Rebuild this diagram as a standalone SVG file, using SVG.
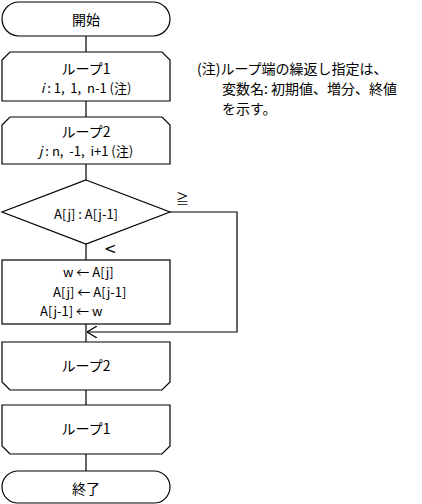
<svg xmlns="http://www.w3.org/2000/svg" width="422" height="504" viewBox="0 0 422 504">
<style>
.s{fill:#fff;stroke:#000;stroke-width:1.2}
.c{fill:none;stroke:#000;stroke-width:1.2}
text{font-family:"Noto Sans CJK JP","DejaVu Sans",sans-serif;font-size:13px;fill:#000;white-space:pre}
.m{text-anchor:middle;dominant-baseline:central}
.j{font-size:14px}
</style>
<defs>
<marker id="a" viewBox="0 0 10 12" refX="10" refY="6" markerWidth="10" markerHeight="12" markerUnits="userSpaceOnUse" orient="auto">
<path d="M0,0 L10,6 L0,12" fill="none" stroke="#000" stroke-width="1.2"/>
</marker>
</defs>
<rect width="422" height="504" fill="#fff"/>
<g id="connectors">
<line class="c" x1="86" y1="36" x2="86" y2="52"/>
<line class="c" x1="86" y1="101" x2="86" y2="117"/>
<line class="c" x1="86" y1="164" x2="86" y2="180"/>
<line class="c" x1="86" y1="244" x2="86" y2="260"/>
<line class="c" x1="86" y1="324" x2="86" y2="342"/>
<line class="c" x1="86" y1="390" x2="86" y2="405"/>
<line class="c" x1="86" y1="454" x2="86" y2="471"/>
<polyline class="c" points="170,212 237,212 237,332 87,332" marker-end="url(#a)"/>
<text x="176" y="203" font-size="14">≧</text>
<text x="104" y="254" style="font-family:'DejaVu Sans',sans-serif;font-size:15px">&lt;</text>
</g>
<g id="start">
<rect class="s" x="2" y="2" width="168" height="34" rx="17"/>
<text class="m j" x="86" y="19">開始</text>
</g>
<g id="loop1">
<path class="s" d="M10,52 H162 L170,60 V101 H2 V60 Z"/>
<text class="m j" x="86" y="68">ループ1</text>
<text class="m" x="86" y="87"><tspan font-style="italic">i</tspan> : 1,  1,  n-1 (注)</text>
</g>
<g id="loop2">
<path class="s" d="M10,117 H162 L170,125 V164 H2 V125 Z"/>
<text class="m j" x="86" y="131">ループ2</text>
<text class="m" x="86" y="150"><tspan font-style="italic">j</tspan> : n,  -1,  i+1 (注)</text>
</g>
<g id="decision">
<path class="s" d="M86,180 L170,212 L86,244 L2,212 Z"/>
<text class="m" x="86" y="213">A[j] : A[j-1]</text>
</g>
<g id="swap">
<rect class="s" x="2" y="260" width="168" height="64"/>
<text x="63" y="277">w ← A[j]</text>
<text x="53" y="297">A[j] ← A[j-1]</text>
<text x="40" y="316">A[j-1] ← w</text>
</g>
<g id="loop2end">
<path class="s" d="M2,342 H170 V382 L162,390 H10 L2,382 Z"/>
<text class="m j" x="86" y="365">ループ2</text>
</g>
<g id="loop1end">
<path class="s" d="M2,405 H170 V446 L162,454 H10 L2,446 Z"/>
<text class="m j" x="86" y="428">ループ1</text>
</g>
<g id="end">
<rect class="s" x="2" y="471" width="168" height="32" rx="16"/>
<text class="m j" x="86" y="488">終了</text>
</g>
<g id="note">
<text class="j" x="197" y="74">(注)ループ端の繰返し指定は、</text>
<text class="j" x="222" y="94">変数名: 初期値、増分、終値</text>
<text class="j" x="222" y="114">を示す。</text>
</g>
</svg>
